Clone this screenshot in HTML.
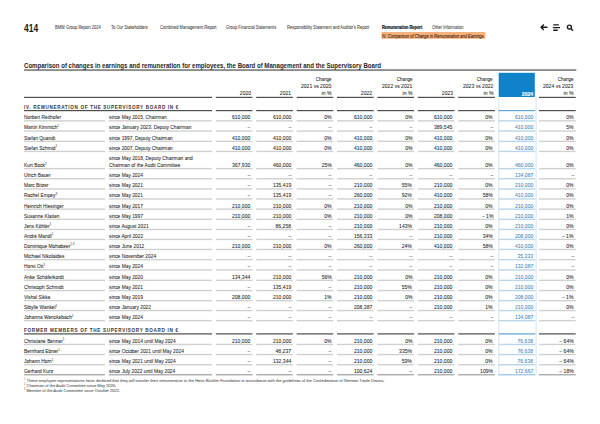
<!DOCTYPE html>
<html><head><meta charset="utf-8"><style>
html,body{margin:0;padding:0;background:#fff;}
body{width:600px;height:424px;position:relative;overflow:hidden;font-family:"Liberation Sans",sans-serif;}
.t{position:absolute;white-space:nowrap;line-height:1;-webkit-text-stroke:0.06px currentColor;}
.l{position:absolute;}
sup{font-size:62%;vertical-align:0;position:relative;top:-0.65em;line-height:0;-webkit-text-stroke:0;}
</style></head><body>
<svg style="position:absolute;left:0;top:0" width="600" height="424" viewBox="0 0 600 424">
<rect x="381.50" y="32.00" width="103.80" height="6.80" fill="#f6b27c"/>
<rect x="24.00" y="69.45" width="552.30" height="1.2" fill="#4d4d4d"/>
<rect x="498.70" y="72.80" width="36.10" height="24.20" fill="#0f82cb"/>
<rect x="24.00" y="96.80" width="188.00" height="1.2" fill="#4d4d4d"/>
<rect x="215.80" y="96.80" width="36.70" height="1.2" fill="#4d4d4d"/>
<rect x="256.20" y="96.80" width="36.70" height="1.2" fill="#4d4d4d"/>
<rect x="296.60" y="96.80" width="36.70" height="1.2" fill="#4d4d4d"/>
<rect x="337.00" y="96.80" width="36.70" height="1.2" fill="#4d4d4d"/>
<rect x="377.40" y="96.80" width="36.70" height="1.2" fill="#4d4d4d"/>
<rect x="417.80" y="96.80" width="36.70" height="1.2" fill="#4d4d4d"/>
<rect x="458.20" y="96.80" width="36.70" height="1.2" fill="#4d4d4d"/>
<rect x="539.00" y="96.80" width="36.70" height="1.2" fill="#4d4d4d"/>
<rect x="498.30" y="98.00" width="1.00" height="277.20" fill="#d3e6f4"/>
<rect x="535.60" y="98.00" width="1.00" height="277.20" fill="#d3e6f4"/>
<rect x="24.00" y="110.00" width="188.00" height="1.2" fill="#4d4d4d"/>
<rect x="215.80" y="110.00" width="36.70" height="1.2" fill="#4d4d4d"/>
<rect x="256.20" y="110.00" width="36.70" height="1.2" fill="#4d4d4d"/>
<rect x="296.60" y="110.00" width="36.70" height="1.2" fill="#4d4d4d"/>
<rect x="337.00" y="110.00" width="36.70" height="1.2" fill="#4d4d4d"/>
<rect x="377.40" y="110.00" width="36.70" height="1.2" fill="#4d4d4d"/>
<rect x="417.80" y="110.00" width="36.70" height="1.2" fill="#4d4d4d"/>
<rect x="458.20" y="110.00" width="36.70" height="1.2" fill="#4d4d4d"/>
<rect x="498.60" y="110.00" width="36.70" height="1.2" fill="#5fa3d3"/>
<rect x="539.00" y="110.00" width="36.70" height="1.2" fill="#4d4d4d"/>
<rect x="24.00" y="120.15" width="81.00" height="1.4" fill="#d0d0d0"/>
<rect x="108.80" y="120.15" width="103.20" height="1.4" fill="#d0d0d0"/>
<rect x="215.80" y="120.15" width="36.70" height="1.4" fill="#d0d0d0"/>
<rect x="256.20" y="120.15" width="36.70" height="1.4" fill="#d0d0d0"/>
<rect x="296.60" y="120.15" width="36.70" height="1.4" fill="#d0d0d0"/>
<rect x="337.00" y="120.15" width="36.70" height="1.4" fill="#d0d0d0"/>
<rect x="377.40" y="120.15" width="36.70" height="1.4" fill="#d0d0d0"/>
<rect x="417.80" y="120.15" width="36.70" height="1.4" fill="#d0d0d0"/>
<rect x="458.20" y="120.15" width="36.70" height="1.4" fill="#d0d0d0"/>
<rect x="498.60" y="120.15" width="36.70" height="1.4" fill="#b9d6ec"/>
<rect x="539.00" y="120.15" width="36.70" height="1.4" fill="#d0d0d0"/>
<rect x="24.00" y="130.35" width="81.00" height="1.4" fill="#d0d0d0"/>
<rect x="108.80" y="130.35" width="103.20" height="1.4" fill="#d0d0d0"/>
<rect x="215.80" y="130.35" width="36.70" height="1.4" fill="#d0d0d0"/>
<rect x="256.20" y="130.35" width="36.70" height="1.4" fill="#d0d0d0"/>
<rect x="296.60" y="130.35" width="36.70" height="1.4" fill="#d0d0d0"/>
<rect x="337.00" y="130.35" width="36.70" height="1.4" fill="#d0d0d0"/>
<rect x="377.40" y="130.35" width="36.70" height="1.4" fill="#d0d0d0"/>
<rect x="417.80" y="130.35" width="36.70" height="1.4" fill="#d0d0d0"/>
<rect x="458.20" y="130.35" width="36.70" height="1.4" fill="#d0d0d0"/>
<rect x="498.60" y="130.35" width="36.70" height="1.4" fill="#b9d6ec"/>
<rect x="539.00" y="130.35" width="36.70" height="1.4" fill="#d0d0d0"/>
<rect x="24.00" y="140.65" width="81.00" height="1.4" fill="#d0d0d0"/>
<rect x="108.80" y="140.65" width="103.20" height="1.4" fill="#d0d0d0"/>
<rect x="215.80" y="140.65" width="36.70" height="1.4" fill="#d0d0d0"/>
<rect x="256.20" y="140.65" width="36.70" height="1.4" fill="#d0d0d0"/>
<rect x="296.60" y="140.65" width="36.70" height="1.4" fill="#d0d0d0"/>
<rect x="337.00" y="140.65" width="36.70" height="1.4" fill="#d0d0d0"/>
<rect x="377.40" y="140.65" width="36.70" height="1.4" fill="#d0d0d0"/>
<rect x="417.80" y="140.65" width="36.70" height="1.4" fill="#d0d0d0"/>
<rect x="458.20" y="140.65" width="36.70" height="1.4" fill="#d0d0d0"/>
<rect x="498.60" y="140.65" width="36.70" height="1.4" fill="#b9d6ec"/>
<rect x="539.00" y="140.65" width="36.70" height="1.4" fill="#d0d0d0"/>
<rect x="24.00" y="150.75" width="81.00" height="1.4" fill="#d0d0d0"/>
<rect x="108.80" y="150.75" width="103.20" height="1.4" fill="#d0d0d0"/>
<rect x="215.80" y="150.75" width="36.70" height="1.4" fill="#d0d0d0"/>
<rect x="256.20" y="150.75" width="36.70" height="1.4" fill="#d0d0d0"/>
<rect x="296.60" y="150.75" width="36.70" height="1.4" fill="#d0d0d0"/>
<rect x="337.00" y="150.75" width="36.70" height="1.4" fill="#d0d0d0"/>
<rect x="377.40" y="150.75" width="36.70" height="1.4" fill="#d0d0d0"/>
<rect x="417.80" y="150.75" width="36.70" height="1.4" fill="#d0d0d0"/>
<rect x="458.20" y="150.75" width="36.70" height="1.4" fill="#d0d0d0"/>
<rect x="498.60" y="150.75" width="36.70" height="1.4" fill="#b9d6ec"/>
<rect x="539.00" y="150.75" width="36.70" height="1.4" fill="#d0d0d0"/>
<rect x="24.00" y="167.95" width="81.00" height="1.4" fill="#d0d0d0"/>
<rect x="108.80" y="167.95" width="103.20" height="1.4" fill="#d0d0d0"/>
<rect x="215.80" y="167.95" width="36.70" height="1.4" fill="#d0d0d0"/>
<rect x="256.20" y="167.95" width="36.70" height="1.4" fill="#d0d0d0"/>
<rect x="296.60" y="167.95" width="36.70" height="1.4" fill="#d0d0d0"/>
<rect x="337.00" y="167.95" width="36.70" height="1.4" fill="#d0d0d0"/>
<rect x="377.40" y="167.95" width="36.70" height="1.4" fill="#d0d0d0"/>
<rect x="417.80" y="167.95" width="36.70" height="1.4" fill="#d0d0d0"/>
<rect x="458.20" y="167.95" width="36.70" height="1.4" fill="#d0d0d0"/>
<rect x="498.60" y="167.95" width="36.70" height="1.4" fill="#b9d6ec"/>
<rect x="539.00" y="167.95" width="36.70" height="1.4" fill="#d0d0d0"/>
<rect x="24.00" y="178.05" width="81.00" height="1.4" fill="#d0d0d0"/>
<rect x="108.80" y="178.05" width="103.20" height="1.4" fill="#d0d0d0"/>
<rect x="215.80" y="178.05" width="36.70" height="1.4" fill="#d0d0d0"/>
<rect x="256.20" y="178.05" width="36.70" height="1.4" fill="#d0d0d0"/>
<rect x="296.60" y="178.05" width="36.70" height="1.4" fill="#d0d0d0"/>
<rect x="337.00" y="178.05" width="36.70" height="1.4" fill="#d0d0d0"/>
<rect x="377.40" y="178.05" width="36.70" height="1.4" fill="#d0d0d0"/>
<rect x="417.80" y="178.05" width="36.70" height="1.4" fill="#d0d0d0"/>
<rect x="458.20" y="178.05" width="36.70" height="1.4" fill="#d0d0d0"/>
<rect x="498.60" y="178.05" width="36.70" height="1.4" fill="#b9d6ec"/>
<rect x="539.00" y="178.05" width="36.70" height="1.4" fill="#d0d0d0"/>
<rect x="24.00" y="188.25" width="81.00" height="1.4" fill="#d0d0d0"/>
<rect x="108.80" y="188.25" width="103.20" height="1.4" fill="#d0d0d0"/>
<rect x="215.80" y="188.25" width="36.70" height="1.4" fill="#d0d0d0"/>
<rect x="256.20" y="188.25" width="36.70" height="1.4" fill="#d0d0d0"/>
<rect x="296.60" y="188.25" width="36.70" height="1.4" fill="#d0d0d0"/>
<rect x="337.00" y="188.25" width="36.70" height="1.4" fill="#d0d0d0"/>
<rect x="377.40" y="188.25" width="36.70" height="1.4" fill="#d0d0d0"/>
<rect x="417.80" y="188.25" width="36.70" height="1.4" fill="#d0d0d0"/>
<rect x="458.20" y="188.25" width="36.70" height="1.4" fill="#d0d0d0"/>
<rect x="498.60" y="188.25" width="36.70" height="1.4" fill="#b9d6ec"/>
<rect x="539.00" y="188.25" width="36.70" height="1.4" fill="#d0d0d0"/>
<rect x="24.00" y="198.25" width="81.00" height="1.4" fill="#d0d0d0"/>
<rect x="108.80" y="198.25" width="103.20" height="1.4" fill="#d0d0d0"/>
<rect x="215.80" y="198.25" width="36.70" height="1.4" fill="#d0d0d0"/>
<rect x="256.20" y="198.25" width="36.70" height="1.4" fill="#d0d0d0"/>
<rect x="296.60" y="198.25" width="36.70" height="1.4" fill="#d0d0d0"/>
<rect x="337.00" y="198.25" width="36.70" height="1.4" fill="#d0d0d0"/>
<rect x="377.40" y="198.25" width="36.70" height="1.4" fill="#d0d0d0"/>
<rect x="417.80" y="198.25" width="36.70" height="1.4" fill="#d0d0d0"/>
<rect x="458.20" y="198.25" width="36.70" height="1.4" fill="#d0d0d0"/>
<rect x="498.60" y="198.25" width="36.70" height="1.4" fill="#b9d6ec"/>
<rect x="539.00" y="198.25" width="36.70" height="1.4" fill="#d0d0d0"/>
<rect x="24.00" y="208.45" width="81.00" height="1.4" fill="#d0d0d0"/>
<rect x="108.80" y="208.45" width="103.20" height="1.4" fill="#d0d0d0"/>
<rect x="215.80" y="208.45" width="36.70" height="1.4" fill="#d0d0d0"/>
<rect x="256.20" y="208.45" width="36.70" height="1.4" fill="#d0d0d0"/>
<rect x="296.60" y="208.45" width="36.70" height="1.4" fill="#d0d0d0"/>
<rect x="337.00" y="208.45" width="36.70" height="1.4" fill="#d0d0d0"/>
<rect x="377.40" y="208.45" width="36.70" height="1.4" fill="#d0d0d0"/>
<rect x="417.80" y="208.45" width="36.70" height="1.4" fill="#d0d0d0"/>
<rect x="458.20" y="208.45" width="36.70" height="1.4" fill="#d0d0d0"/>
<rect x="498.60" y="208.45" width="36.70" height="1.4" fill="#b9d6ec"/>
<rect x="539.00" y="208.45" width="36.70" height="1.4" fill="#d0d0d0"/>
<rect x="24.00" y="218.65" width="81.00" height="1.4" fill="#d0d0d0"/>
<rect x="108.80" y="218.65" width="103.20" height="1.4" fill="#d0d0d0"/>
<rect x="215.80" y="218.65" width="36.70" height="1.4" fill="#d0d0d0"/>
<rect x="256.20" y="218.65" width="36.70" height="1.4" fill="#d0d0d0"/>
<rect x="296.60" y="218.65" width="36.70" height="1.4" fill="#d0d0d0"/>
<rect x="337.00" y="218.65" width="36.70" height="1.4" fill="#d0d0d0"/>
<rect x="377.40" y="218.65" width="36.70" height="1.4" fill="#d0d0d0"/>
<rect x="417.80" y="218.65" width="36.70" height="1.4" fill="#d0d0d0"/>
<rect x="458.20" y="218.65" width="36.70" height="1.4" fill="#d0d0d0"/>
<rect x="498.60" y="218.65" width="36.70" height="1.4" fill="#b9d6ec"/>
<rect x="539.00" y="218.65" width="36.70" height="1.4" fill="#d0d0d0"/>
<rect x="24.00" y="228.75" width="81.00" height="1.4" fill="#d0d0d0"/>
<rect x="108.80" y="228.75" width="103.20" height="1.4" fill="#d0d0d0"/>
<rect x="215.80" y="228.75" width="36.70" height="1.4" fill="#d0d0d0"/>
<rect x="256.20" y="228.75" width="36.70" height="1.4" fill="#d0d0d0"/>
<rect x="296.60" y="228.75" width="36.70" height="1.4" fill="#d0d0d0"/>
<rect x="337.00" y="228.75" width="36.70" height="1.4" fill="#d0d0d0"/>
<rect x="377.40" y="228.75" width="36.70" height="1.4" fill="#d0d0d0"/>
<rect x="417.80" y="228.75" width="36.70" height="1.4" fill="#d0d0d0"/>
<rect x="458.20" y="228.75" width="36.70" height="1.4" fill="#d0d0d0"/>
<rect x="498.60" y="228.75" width="36.70" height="1.4" fill="#b9d6ec"/>
<rect x="539.00" y="228.75" width="36.70" height="1.4" fill="#d0d0d0"/>
<rect x="24.00" y="238.75" width="81.00" height="1.4" fill="#d0d0d0"/>
<rect x="108.80" y="238.75" width="103.20" height="1.4" fill="#d0d0d0"/>
<rect x="215.80" y="238.75" width="36.70" height="1.4" fill="#d0d0d0"/>
<rect x="256.20" y="238.75" width="36.70" height="1.4" fill="#d0d0d0"/>
<rect x="296.60" y="238.75" width="36.70" height="1.4" fill="#d0d0d0"/>
<rect x="337.00" y="238.75" width="36.70" height="1.4" fill="#d0d0d0"/>
<rect x="377.40" y="238.75" width="36.70" height="1.4" fill="#d0d0d0"/>
<rect x="417.80" y="238.75" width="36.70" height="1.4" fill="#d0d0d0"/>
<rect x="458.20" y="238.75" width="36.70" height="1.4" fill="#d0d0d0"/>
<rect x="498.60" y="238.75" width="36.70" height="1.4" fill="#b9d6ec"/>
<rect x="539.00" y="238.75" width="36.70" height="1.4" fill="#d0d0d0"/>
<rect x="24.00" y="248.75" width="81.00" height="1.4" fill="#d0d0d0"/>
<rect x="108.80" y="248.75" width="103.20" height="1.4" fill="#d0d0d0"/>
<rect x="215.80" y="248.75" width="36.70" height="1.4" fill="#d0d0d0"/>
<rect x="256.20" y="248.75" width="36.70" height="1.4" fill="#d0d0d0"/>
<rect x="296.60" y="248.75" width="36.70" height="1.4" fill="#d0d0d0"/>
<rect x="337.00" y="248.75" width="36.70" height="1.4" fill="#d0d0d0"/>
<rect x="377.40" y="248.75" width="36.70" height="1.4" fill="#d0d0d0"/>
<rect x="417.80" y="248.75" width="36.70" height="1.4" fill="#d0d0d0"/>
<rect x="458.20" y="248.75" width="36.70" height="1.4" fill="#d0d0d0"/>
<rect x="498.60" y="248.75" width="36.70" height="1.4" fill="#b9d6ec"/>
<rect x="539.00" y="248.75" width="36.70" height="1.4" fill="#d0d0d0"/>
<rect x="24.00" y="258.95" width="81.00" height="1.4" fill="#d0d0d0"/>
<rect x="108.80" y="258.95" width="103.20" height="1.4" fill="#d0d0d0"/>
<rect x="215.80" y="258.95" width="36.70" height="1.4" fill="#d0d0d0"/>
<rect x="256.20" y="258.95" width="36.70" height="1.4" fill="#d0d0d0"/>
<rect x="296.60" y="258.95" width="36.70" height="1.4" fill="#d0d0d0"/>
<rect x="337.00" y="258.95" width="36.70" height="1.4" fill="#d0d0d0"/>
<rect x="377.40" y="258.95" width="36.70" height="1.4" fill="#d0d0d0"/>
<rect x="417.80" y="258.95" width="36.70" height="1.4" fill="#d0d0d0"/>
<rect x="458.20" y="258.95" width="36.70" height="1.4" fill="#d0d0d0"/>
<rect x="498.60" y="258.95" width="36.70" height="1.4" fill="#b9d6ec"/>
<rect x="539.00" y="258.95" width="36.70" height="1.4" fill="#d0d0d0"/>
<rect x="24.00" y="269.25" width="81.00" height="1.4" fill="#d0d0d0"/>
<rect x="108.80" y="269.25" width="103.20" height="1.4" fill="#d0d0d0"/>
<rect x="215.80" y="269.25" width="36.70" height="1.4" fill="#d0d0d0"/>
<rect x="256.20" y="269.25" width="36.70" height="1.4" fill="#d0d0d0"/>
<rect x="296.60" y="269.25" width="36.70" height="1.4" fill="#d0d0d0"/>
<rect x="337.00" y="269.25" width="36.70" height="1.4" fill="#d0d0d0"/>
<rect x="377.40" y="269.25" width="36.70" height="1.4" fill="#d0d0d0"/>
<rect x="417.80" y="269.25" width="36.70" height="1.4" fill="#d0d0d0"/>
<rect x="458.20" y="269.25" width="36.70" height="1.4" fill="#d0d0d0"/>
<rect x="498.60" y="269.25" width="36.70" height="1.4" fill="#b9d6ec"/>
<rect x="539.00" y="269.25" width="36.70" height="1.4" fill="#d0d0d0"/>
<rect x="24.00" y="279.65" width="81.00" height="1.4" fill="#d0d0d0"/>
<rect x="108.80" y="279.65" width="103.20" height="1.4" fill="#d0d0d0"/>
<rect x="215.80" y="279.65" width="36.70" height="1.4" fill="#d0d0d0"/>
<rect x="256.20" y="279.65" width="36.70" height="1.4" fill="#d0d0d0"/>
<rect x="296.60" y="279.65" width="36.70" height="1.4" fill="#d0d0d0"/>
<rect x="337.00" y="279.65" width="36.70" height="1.4" fill="#d0d0d0"/>
<rect x="377.40" y="279.65" width="36.70" height="1.4" fill="#d0d0d0"/>
<rect x="417.80" y="279.65" width="36.70" height="1.4" fill="#d0d0d0"/>
<rect x="458.20" y="279.65" width="36.70" height="1.4" fill="#d0d0d0"/>
<rect x="498.60" y="279.65" width="36.70" height="1.4" fill="#b9d6ec"/>
<rect x="539.00" y="279.65" width="36.70" height="1.4" fill="#d0d0d0"/>
<rect x="24.00" y="289.85" width="81.00" height="1.4" fill="#d0d0d0"/>
<rect x="108.80" y="289.85" width="103.20" height="1.4" fill="#d0d0d0"/>
<rect x="215.80" y="289.85" width="36.70" height="1.4" fill="#d0d0d0"/>
<rect x="256.20" y="289.85" width="36.70" height="1.4" fill="#d0d0d0"/>
<rect x="296.60" y="289.85" width="36.70" height="1.4" fill="#d0d0d0"/>
<rect x="337.00" y="289.85" width="36.70" height="1.4" fill="#d0d0d0"/>
<rect x="377.40" y="289.85" width="36.70" height="1.4" fill="#d0d0d0"/>
<rect x="417.80" y="289.85" width="36.70" height="1.4" fill="#d0d0d0"/>
<rect x="458.20" y="289.85" width="36.70" height="1.4" fill="#d0d0d0"/>
<rect x="498.60" y="289.85" width="36.70" height="1.4" fill="#b9d6ec"/>
<rect x="539.00" y="289.85" width="36.70" height="1.4" fill="#d0d0d0"/>
<rect x="24.00" y="299.95" width="81.00" height="1.4" fill="#d0d0d0"/>
<rect x="108.80" y="299.95" width="103.20" height="1.4" fill="#d0d0d0"/>
<rect x="215.80" y="299.95" width="36.70" height="1.4" fill="#d0d0d0"/>
<rect x="256.20" y="299.95" width="36.70" height="1.4" fill="#d0d0d0"/>
<rect x="296.60" y="299.95" width="36.70" height="1.4" fill="#d0d0d0"/>
<rect x="337.00" y="299.95" width="36.70" height="1.4" fill="#d0d0d0"/>
<rect x="377.40" y="299.95" width="36.70" height="1.4" fill="#d0d0d0"/>
<rect x="417.80" y="299.95" width="36.70" height="1.4" fill="#d0d0d0"/>
<rect x="458.20" y="299.95" width="36.70" height="1.4" fill="#d0d0d0"/>
<rect x="498.60" y="299.95" width="36.70" height="1.4" fill="#b9d6ec"/>
<rect x="539.00" y="299.95" width="36.70" height="1.4" fill="#d0d0d0"/>
<rect x="24.00" y="309.85" width="81.00" height="1.4" fill="#d0d0d0"/>
<rect x="108.80" y="309.85" width="103.20" height="1.4" fill="#d0d0d0"/>
<rect x="215.80" y="309.85" width="36.70" height="1.4" fill="#d0d0d0"/>
<rect x="256.20" y="309.85" width="36.70" height="1.4" fill="#d0d0d0"/>
<rect x="296.60" y="309.85" width="36.70" height="1.4" fill="#d0d0d0"/>
<rect x="337.00" y="309.85" width="36.70" height="1.4" fill="#d0d0d0"/>
<rect x="377.40" y="309.85" width="36.70" height="1.4" fill="#d0d0d0"/>
<rect x="417.80" y="309.85" width="36.70" height="1.4" fill="#d0d0d0"/>
<rect x="458.20" y="309.85" width="36.70" height="1.4" fill="#d0d0d0"/>
<rect x="498.60" y="309.85" width="36.70" height="1.4" fill="#b9d6ec"/>
<rect x="539.00" y="309.85" width="36.70" height="1.4" fill="#d0d0d0"/>
<rect x="24.00" y="319.95" width="81.00" height="1.4" fill="#d0d0d0"/>
<rect x="108.80" y="319.95" width="103.20" height="1.4" fill="#d0d0d0"/>
<rect x="215.80" y="319.95" width="36.70" height="1.4" fill="#d0d0d0"/>
<rect x="256.20" y="319.95" width="36.70" height="1.4" fill="#d0d0d0"/>
<rect x="296.60" y="319.95" width="36.70" height="1.4" fill="#d0d0d0"/>
<rect x="337.00" y="319.95" width="36.70" height="1.4" fill="#d0d0d0"/>
<rect x="377.40" y="319.95" width="36.70" height="1.4" fill="#d0d0d0"/>
<rect x="417.80" y="319.95" width="36.70" height="1.4" fill="#d0d0d0"/>
<rect x="458.20" y="319.95" width="36.70" height="1.4" fill="#d0d0d0"/>
<rect x="498.60" y="319.95" width="36.70" height="1.4" fill="#b9d6ec"/>
<rect x="539.00" y="319.95" width="36.70" height="1.4" fill="#d0d0d0"/>
<rect x="24.00" y="333.30" width="188.00" height="1.2" fill="#4d4d4d"/>
<rect x="215.80" y="333.30" width="36.70" height="1.2" fill="#4d4d4d"/>
<rect x="256.20" y="333.30" width="36.70" height="1.2" fill="#4d4d4d"/>
<rect x="296.60" y="333.30" width="36.70" height="1.2" fill="#4d4d4d"/>
<rect x="337.00" y="333.30" width="36.70" height="1.2" fill="#4d4d4d"/>
<rect x="377.40" y="333.30" width="36.70" height="1.2" fill="#4d4d4d"/>
<rect x="417.80" y="333.30" width="36.70" height="1.2" fill="#4d4d4d"/>
<rect x="458.20" y="333.30" width="36.70" height="1.2" fill="#4d4d4d"/>
<rect x="498.60" y="333.30" width="36.70" height="1.2" fill="#5fa3d3"/>
<rect x="539.00" y="333.30" width="36.70" height="1.2" fill="#4d4d4d"/>
<rect x="24.00" y="343.75" width="81.00" height="1.4" fill="#d0d0d0"/>
<rect x="108.80" y="343.75" width="103.20" height="1.4" fill="#d0d0d0"/>
<rect x="215.80" y="343.75" width="36.70" height="1.4" fill="#d0d0d0"/>
<rect x="256.20" y="343.75" width="36.70" height="1.4" fill="#d0d0d0"/>
<rect x="296.60" y="343.75" width="36.70" height="1.4" fill="#d0d0d0"/>
<rect x="337.00" y="343.75" width="36.70" height="1.4" fill="#d0d0d0"/>
<rect x="377.40" y="343.75" width="36.70" height="1.4" fill="#d0d0d0"/>
<rect x="417.80" y="343.75" width="36.70" height="1.4" fill="#d0d0d0"/>
<rect x="458.20" y="343.75" width="36.70" height="1.4" fill="#d0d0d0"/>
<rect x="498.60" y="343.75" width="36.70" height="1.4" fill="#b9d6ec"/>
<rect x="539.00" y="343.75" width="36.70" height="1.4" fill="#d0d0d0"/>
<rect x="24.00" y="353.85" width="81.00" height="1.4" fill="#d0d0d0"/>
<rect x="108.80" y="353.85" width="103.20" height="1.4" fill="#d0d0d0"/>
<rect x="215.80" y="353.85" width="36.70" height="1.4" fill="#d0d0d0"/>
<rect x="256.20" y="353.85" width="36.70" height="1.4" fill="#d0d0d0"/>
<rect x="296.60" y="353.85" width="36.70" height="1.4" fill="#d0d0d0"/>
<rect x="337.00" y="353.85" width="36.70" height="1.4" fill="#d0d0d0"/>
<rect x="377.40" y="353.85" width="36.70" height="1.4" fill="#d0d0d0"/>
<rect x="417.80" y="353.85" width="36.70" height="1.4" fill="#d0d0d0"/>
<rect x="458.20" y="353.85" width="36.70" height="1.4" fill="#d0d0d0"/>
<rect x="498.60" y="353.85" width="36.70" height="1.4" fill="#b9d6ec"/>
<rect x="539.00" y="353.85" width="36.70" height="1.4" fill="#d0d0d0"/>
<rect x="24.00" y="364.05" width="81.00" height="1.4" fill="#d0d0d0"/>
<rect x="108.80" y="364.05" width="103.20" height="1.4" fill="#d0d0d0"/>
<rect x="215.80" y="364.05" width="36.70" height="1.4" fill="#d0d0d0"/>
<rect x="256.20" y="364.05" width="36.70" height="1.4" fill="#d0d0d0"/>
<rect x="296.60" y="364.05" width="36.70" height="1.4" fill="#d0d0d0"/>
<rect x="337.00" y="364.05" width="36.70" height="1.4" fill="#d0d0d0"/>
<rect x="377.40" y="364.05" width="36.70" height="1.4" fill="#d0d0d0"/>
<rect x="417.80" y="364.05" width="36.70" height="1.4" fill="#d0d0d0"/>
<rect x="458.20" y="364.05" width="36.70" height="1.4" fill="#d0d0d0"/>
<rect x="498.60" y="364.05" width="36.70" height="1.4" fill="#b9d6ec"/>
<rect x="539.00" y="364.05" width="36.70" height="1.4" fill="#d0d0d0"/>
<rect x="24.00" y="373.95" width="81.00" height="1.5" fill="#b0b0b0"/>
<rect x="108.80" y="373.95" width="103.20" height="1.5" fill="#b0b0b0"/>
<rect x="215.80" y="373.95" width="36.70" height="1.5" fill="#b0b0b0"/>
<rect x="256.20" y="373.95" width="36.70" height="1.5" fill="#b0b0b0"/>
<rect x="296.60" y="373.95" width="36.70" height="1.5" fill="#b0b0b0"/>
<rect x="337.00" y="373.95" width="36.70" height="1.5" fill="#b0b0b0"/>
<rect x="377.40" y="373.95" width="36.70" height="1.5" fill="#b0b0b0"/>
<rect x="417.80" y="373.95" width="36.70" height="1.5" fill="#b0b0b0"/>
<rect x="458.20" y="373.95" width="36.70" height="1.5" fill="#b0b0b0"/>
<rect x="498.60" y="373.95" width="36.70" height="1.5" fill="#a8cce8"/>
<rect x="539.00" y="373.95" width="36.70" height="1.5" fill="#b0b0b0"/>
</svg>
<div class="t " style="left:24.00px;top:23.90px;font-size:10.0px;transform-origin:left top;transform:scaleX(0.845);color:#1a1a1a;font-weight:bold;-webkit-text-stroke:0px currentColor;">414</div>
<div class="t " style="left:55.00px;top:24.68px;font-size:5.2px;transform-origin:left top;transform:scaleX(0.78);color:#404040;">BMW Group Report 2024</div>
<div class="t " style="left:111.00px;top:24.68px;font-size:5.2px;transform-origin:left top;transform:scaleX(0.78);color:#404040;">To Our Stakeholders</div>
<div class="t " style="left:159.50px;top:24.68px;font-size:5.2px;transform-origin:left top;transform:scaleX(0.78);color:#404040;">Combined Management Report</div>
<div class="t " style="left:226.00px;top:24.68px;font-size:5.2px;transform-origin:left top;transform:scaleX(0.78);color:#404040;">Group Financial Statements</div>
<div class="t " style="left:287.00px;top:24.68px;font-size:5.2px;transform-origin:left top;transform:scaleX(0.78);color:#404040;">Responsibility Statement and Auditor's Report</div>
<div class="t " style="left:382.30px;top:24.68px;font-size:5.2px;transform-origin:left top;transform:scaleX(0.758);color:#111;font-weight:bold;-webkit-text-stroke:0.2px currentColor;">Remuneration Report</div>
<div class="t " style="left:432.00px;top:24.68px;font-size:5.2px;transform-origin:left top;transform:scaleX(0.78);color:#404040;">Other Information</div>
<div class="t " style="left:382.30px;top:33.98px;font-size:5.2px;transform-origin:left top;transform:scaleX(0.77);color:#4a2810;font-style:italic;-webkit-text-stroke:0.12px currentColor;">IV. Comparison of Change in Remuneration and Earnings</div>
<svg style="position:absolute;left:0;top:0" width="600" height="60" viewBox="0 0 600 60">
<g stroke="#1a1a1a" stroke-width="1.4" fill="none" stroke-linecap="butt">
<path d="M541.0 27.2 H547.5 M543.8 24.5 L541.1 27.2 L543.8 29.9"/>
<path d="M553.3 24.9 H558.8 M552.9 27.6 H560 M553.3 30.2 H557.7"/>
<circle cx="569.4" cy="27.1" r="2.0"/>
<path d="M570.9 28.6 L573 30.7"/>
</g></svg>
<div class="t " style="left:24.00px;top:63.39px;font-size:6.4px;transform-origin:left top;transform:scaleX(0.952);color:#262626;font-weight:bold;-webkit-text-stroke:0px currentColor;">Comparison of changes in earnings and remuneration for employees, the Board of Management and the Supervisory Board</div>
<div class="t " style="right:349.40px;top:91.00px;font-size:5.9px;transform-origin:right top;transform:scaleX(0.86);color:#222;">2020</div>
<div class="t " style="right:309.00px;top:91.00px;font-size:5.9px;transform-origin:right top;transform:scaleX(0.86);color:#222;">2021</div>
<div class="t " style="right:268.60px;top:76.90px;font-size:5.9px;transform-origin:right top;transform:scaleX(0.77);color:#222;">Change</div>
<div class="t " style="right:268.60px;top:84.10px;font-size:5.9px;transform-origin:right top;transform:scaleX(0.86);color:#222;">2021 vs 2020</div>
<div class="t " style="right:268.60px;top:91.00px;font-size:5.9px;transform-origin:right top;transform:scaleX(0.87);color:#222;">in %</div>
<div class="t " style="right:228.20px;top:91.00px;font-size:5.9px;transform-origin:right top;transform:scaleX(0.86);color:#222;">2022</div>
<div class="t " style="right:187.80px;top:76.90px;font-size:5.9px;transform-origin:right top;transform:scaleX(0.77);color:#222;">Change</div>
<div class="t " style="right:187.80px;top:84.10px;font-size:5.9px;transform-origin:right top;transform:scaleX(0.86);color:#222;">2022 vs 2021</div>
<div class="t " style="right:187.80px;top:91.00px;font-size:5.9px;transform-origin:right top;transform:scaleX(0.87);color:#222;">in %</div>
<div class="t " style="right:147.40px;top:91.00px;font-size:5.9px;transform-origin:right top;transform:scaleX(0.86);color:#222;">2023</div>
<div class="t " style="right:107.00px;top:76.90px;font-size:5.9px;transform-origin:right top;transform:scaleX(0.77);color:#222;">Change</div>
<div class="t " style="right:107.00px;top:84.10px;font-size:5.9px;transform-origin:right top;transform:scaleX(0.86);color:#222;">2023 vs 2022</div>
<div class="t " style="right:107.00px;top:91.00px;font-size:5.9px;transform-origin:right top;transform:scaleX(0.87);color:#222;">in %</div>
<div class="t " style="right:66.60px;top:91.60px;font-size:5.9px;transform-origin:right top;transform:scaleX(0.86);color:#ffffff;font-weight:bold;-webkit-text-stroke:0.12px currentColor;">2024</div>
<div class="t " style="right:26.20px;top:76.90px;font-size:5.9px;transform-origin:right top;transform:scaleX(0.77);color:#222;">Change</div>
<div class="t " style="right:26.20px;top:84.10px;font-size:5.9px;transform-origin:right top;transform:scaleX(0.86);color:#222;">2024 vs 2023</div>
<div class="t " style="right:26.20px;top:91.00px;font-size:5.9px;transform-origin:right top;transform:scaleX(0.87);color:#222;">in %</div>
<div class="t " style="left:24.00px;top:105.78px;font-size:4.6px;transform-origin:left top;color:#333;font-weight:bold;-webkit-text-stroke:0px currentColor;letter-spacing:0.68px;">IV. REMUNERATION OF THE SUPERVISORY BOARD IN €</div>
<div class="t " style="left:24.00px;top:115.25px;font-size:5.9px;transform-origin:left top;transform:scaleX(0.822);color:#222;">Norbert Reithofer</div>
<div class="t " style="left:108.80px;top:115.25px;font-size:5.9px;transform-origin:left top;transform:scaleX(0.822);color:#222;">since May 2015, Chairman</div>
<div class="t " style="right:349.40px;top:115.25px;font-size:5.9px;transform-origin:right top;transform:scaleX(0.86);color:#222;">610,000</div>
<div class="t " style="right:309.00px;top:115.25px;font-size:5.9px;transform-origin:right top;transform:scaleX(0.86);color:#222;">610,000</div>
<div class="t " style="right:268.60px;top:115.25px;font-size:5.9px;transform-origin:right top;transform:scaleX(0.86);color:#222;">0%</div>
<div class="t " style="right:228.20px;top:115.25px;font-size:5.9px;transform-origin:right top;transform:scaleX(0.86);color:#222;">610,000</div>
<div class="t " style="right:187.80px;top:115.25px;font-size:5.9px;transform-origin:right top;transform:scaleX(0.86);color:#222;">0%</div>
<div class="t " style="right:147.40px;top:115.25px;font-size:5.9px;transform-origin:right top;transform:scaleX(0.86);color:#222;">610,000</div>
<div class="t " style="right:107.00px;top:115.25px;font-size:5.9px;transform-origin:right top;transform:scaleX(0.86);color:#222;">0%</div>
<div class="t " style="right:66.60px;top:115.25px;font-size:5.9px;transform-origin:right top;transform:scaleX(0.86);color:#3886c0;">610,000</div>
<div class="t " style="right:26.20px;top:115.25px;font-size:5.9px;transform-origin:right top;transform:scaleX(0.86);color:#222;">0%</div>
<div class="t " style="left:24.00px;top:125.45px;font-size:5.9px;transform-origin:left top;transform:scaleX(0.822);color:#222;">Martin Kimmich<sup>1</sup></div>
<div class="t " style="left:108.80px;top:125.45px;font-size:5.9px;transform-origin:left top;transform:scaleX(0.822);color:#222;">since January 2023, Deputy Chairman</div>
<div class="t " style="right:349.40px;top:125.45px;font-size:5.9px;transform-origin:right top;transform:scaleX(0.86);color:#222;">–</div>
<div class="t " style="right:309.00px;top:125.45px;font-size:5.9px;transform-origin:right top;transform:scaleX(0.86);color:#222;">–</div>
<div class="t " style="right:268.60px;top:125.45px;font-size:5.9px;transform-origin:right top;transform:scaleX(0.86);color:#222;">–</div>
<div class="t " style="right:228.20px;top:125.45px;font-size:5.9px;transform-origin:right top;transform:scaleX(0.86);color:#222;">–</div>
<div class="t " style="right:187.80px;top:125.45px;font-size:5.9px;transform-origin:right top;transform:scaleX(0.86);color:#222;">–</div>
<div class="t " style="right:147.40px;top:125.45px;font-size:5.9px;transform-origin:right top;transform:scaleX(0.86);color:#222;">389,545</div>
<div class="t " style="right:107.00px;top:125.45px;font-size:5.9px;transform-origin:right top;transform:scaleX(0.86);color:#222;">–</div>
<div class="t " style="right:66.60px;top:125.45px;font-size:5.9px;transform-origin:right top;transform:scaleX(0.86);color:#3886c0;">410,000</div>
<div class="t " style="right:26.20px;top:125.45px;font-size:5.9px;transform-origin:right top;transform:scaleX(0.86);color:#222;">5%</div>
<div class="t " style="left:24.00px;top:135.75px;font-size:5.9px;transform-origin:left top;transform:scaleX(0.822);color:#222;">Stefan Quandt</div>
<div class="t " style="left:108.80px;top:135.75px;font-size:5.9px;transform-origin:left top;transform:scaleX(0.822);color:#222;">since 1997, Deputy Chairman</div>
<div class="t " style="right:349.40px;top:135.75px;font-size:5.9px;transform-origin:right top;transform:scaleX(0.86);color:#222;">410,000</div>
<div class="t " style="right:309.00px;top:135.75px;font-size:5.9px;transform-origin:right top;transform:scaleX(0.86);color:#222;">410,000</div>
<div class="t " style="right:268.60px;top:135.75px;font-size:5.9px;transform-origin:right top;transform:scaleX(0.86);color:#222;">0%</div>
<div class="t " style="right:228.20px;top:135.75px;font-size:5.9px;transform-origin:right top;transform:scaleX(0.86);color:#222;">410,000</div>
<div class="t " style="right:187.80px;top:135.75px;font-size:5.9px;transform-origin:right top;transform:scaleX(0.86);color:#222;">0%</div>
<div class="t " style="right:147.40px;top:135.75px;font-size:5.9px;transform-origin:right top;transform:scaleX(0.86);color:#222;">410,000</div>
<div class="t " style="right:107.00px;top:135.75px;font-size:5.9px;transform-origin:right top;transform:scaleX(0.86);color:#222;">0%</div>
<div class="t " style="right:66.60px;top:135.75px;font-size:5.9px;transform-origin:right top;transform:scaleX(0.86);color:#3886c0;">410,000</div>
<div class="t " style="right:26.20px;top:135.75px;font-size:5.9px;transform-origin:right top;transform:scaleX(0.86);color:#222;">0%</div>
<div class="t " style="left:24.00px;top:145.85px;font-size:5.9px;transform-origin:left top;transform:scaleX(0.822);color:#222;">Stefan Schmid<sup>1</sup></div>
<div class="t " style="left:108.80px;top:145.85px;font-size:5.9px;transform-origin:left top;transform:scaleX(0.822);color:#222;">since 2007, Deputy Chairman</div>
<div class="t " style="right:349.40px;top:145.85px;font-size:5.9px;transform-origin:right top;transform:scaleX(0.86);color:#222;">410,000</div>
<div class="t " style="right:309.00px;top:145.85px;font-size:5.9px;transform-origin:right top;transform:scaleX(0.86);color:#222;">410,000</div>
<div class="t " style="right:268.60px;top:145.85px;font-size:5.9px;transform-origin:right top;transform:scaleX(0.86);color:#222;">0%</div>
<div class="t " style="right:228.20px;top:145.85px;font-size:5.9px;transform-origin:right top;transform:scaleX(0.86);color:#222;">410,000</div>
<div class="t " style="right:187.80px;top:145.85px;font-size:5.9px;transform-origin:right top;transform:scaleX(0.86);color:#222;">0%</div>
<div class="t " style="right:147.40px;top:145.85px;font-size:5.9px;transform-origin:right top;transform:scaleX(0.86);color:#222;">410,000</div>
<div class="t " style="right:107.00px;top:145.85px;font-size:5.9px;transform-origin:right top;transform:scaleX(0.86);color:#222;">0%</div>
<div class="t " style="right:66.60px;top:145.85px;font-size:5.9px;transform-origin:right top;transform:scaleX(0.86);color:#3886c0;">410,000</div>
<div class="t " style="right:26.20px;top:145.85px;font-size:5.9px;transform-origin:right top;transform:scaleX(0.86);color:#222;">0%</div>
<div class="t " style="left:24.00px;top:163.05px;font-size:5.9px;transform-origin:left top;transform:scaleX(0.822);color:#222;">Kurt Bock<sup>2</sup></div>
<div class="t " style="left:108.80px;top:156.05px;font-size:5.9px;transform-origin:left top;transform:scaleX(0.822);color:#222;">since May 2018, Deputy Chairman and</div>
<div class="t " style="left:108.80px;top:163.05px;font-size:5.9px;transform-origin:left top;transform:scaleX(0.822);color:#222;">Chairman of the Audit Committee</div>
<div class="t " style="right:349.40px;top:163.05px;font-size:5.9px;transform-origin:right top;transform:scaleX(0.86);color:#222;">367,930</div>
<div class="t " style="right:309.00px;top:163.05px;font-size:5.9px;transform-origin:right top;transform:scaleX(0.86);color:#222;">460,000</div>
<div class="t " style="right:268.60px;top:163.05px;font-size:5.9px;transform-origin:right top;transform:scaleX(0.86);color:#222;">25%</div>
<div class="t " style="right:228.20px;top:163.05px;font-size:5.9px;transform-origin:right top;transform:scaleX(0.86);color:#222;">460,000</div>
<div class="t " style="right:187.80px;top:163.05px;font-size:5.9px;transform-origin:right top;transform:scaleX(0.86);color:#222;">0%</div>
<div class="t " style="right:147.40px;top:163.05px;font-size:5.9px;transform-origin:right top;transform:scaleX(0.86);color:#222;">460,000</div>
<div class="t " style="right:107.00px;top:163.05px;font-size:5.9px;transform-origin:right top;transform:scaleX(0.86);color:#222;">0%</div>
<div class="t " style="right:66.60px;top:163.05px;font-size:5.9px;transform-origin:right top;transform:scaleX(0.86);color:#3886c0;">460,000</div>
<div class="t " style="right:26.20px;top:163.05px;font-size:5.9px;transform-origin:right top;transform:scaleX(0.86);color:#222;">0%</div>
<div class="t " style="left:24.00px;top:173.15px;font-size:5.9px;transform-origin:left top;transform:scaleX(0.822);color:#222;">Ulrich Bauer</div>
<div class="t " style="left:108.80px;top:173.15px;font-size:5.9px;transform-origin:left top;transform:scaleX(0.822);color:#222;">since May 2024</div>
<div class="t " style="right:349.40px;top:173.15px;font-size:5.9px;transform-origin:right top;transform:scaleX(0.86);color:#222;">–</div>
<div class="t " style="right:309.00px;top:173.15px;font-size:5.9px;transform-origin:right top;transform:scaleX(0.86);color:#222;">–</div>
<div class="t " style="right:268.60px;top:173.15px;font-size:5.9px;transform-origin:right top;transform:scaleX(0.86);color:#222;">–</div>
<div class="t " style="right:228.20px;top:173.15px;font-size:5.9px;transform-origin:right top;transform:scaleX(0.86);color:#222;">–</div>
<div class="t " style="right:187.80px;top:173.15px;font-size:5.9px;transform-origin:right top;transform:scaleX(0.86);color:#222;">–</div>
<div class="t " style="right:147.40px;top:173.15px;font-size:5.9px;transform-origin:right top;transform:scaleX(0.86);color:#222;">–</div>
<div class="t " style="right:107.00px;top:173.15px;font-size:5.9px;transform-origin:right top;transform:scaleX(0.86);color:#222;">–</div>
<div class="t " style="right:66.60px;top:173.15px;font-size:5.9px;transform-origin:right top;transform:scaleX(0.86);color:#3886c0;">134,087</div>
<div class="t " style="right:26.20px;top:173.15px;font-size:5.9px;transform-origin:right top;transform:scaleX(0.86);color:#222;">–</div>
<div class="t " style="left:24.00px;top:183.35px;font-size:5.9px;transform-origin:left top;transform:scaleX(0.822);color:#222;">Marc Bitzer</div>
<div class="t " style="left:108.80px;top:183.35px;font-size:5.9px;transform-origin:left top;transform:scaleX(0.822);color:#222;">since May 2021</div>
<div class="t " style="right:349.40px;top:183.35px;font-size:5.9px;transform-origin:right top;transform:scaleX(0.86);color:#222;">–</div>
<div class="t " style="right:309.00px;top:183.35px;font-size:5.9px;transform-origin:right top;transform:scaleX(0.86);color:#222;">135,419</div>
<div class="t " style="right:268.60px;top:183.35px;font-size:5.9px;transform-origin:right top;transform:scaleX(0.86);color:#222;">–</div>
<div class="t " style="right:228.20px;top:183.35px;font-size:5.9px;transform-origin:right top;transform:scaleX(0.86);color:#222;">210,000</div>
<div class="t " style="right:187.80px;top:183.35px;font-size:5.9px;transform-origin:right top;transform:scaleX(0.86);color:#222;">55%</div>
<div class="t " style="right:147.40px;top:183.35px;font-size:5.9px;transform-origin:right top;transform:scaleX(0.86);color:#222;">210,000</div>
<div class="t " style="right:107.00px;top:183.35px;font-size:5.9px;transform-origin:right top;transform:scaleX(0.86);color:#222;">0%</div>
<div class="t " style="right:66.60px;top:183.35px;font-size:5.9px;transform-origin:right top;transform:scaleX(0.86);color:#3886c0;">210,000</div>
<div class="t " style="right:26.20px;top:183.35px;font-size:5.9px;transform-origin:right top;transform:scaleX(0.86);color:#222;">0%</div>
<div class="t " style="left:24.00px;top:193.35px;font-size:5.9px;transform-origin:left top;transform:scaleX(0.822);color:#222;">Rachel Empey<sup>3</sup></div>
<div class="t " style="left:108.80px;top:193.35px;font-size:5.9px;transform-origin:left top;transform:scaleX(0.822);color:#222;">since May 2021</div>
<div class="t " style="right:349.40px;top:193.35px;font-size:5.9px;transform-origin:right top;transform:scaleX(0.86);color:#222;">–</div>
<div class="t " style="right:309.00px;top:193.35px;font-size:5.9px;transform-origin:right top;transform:scaleX(0.86);color:#222;">135,419</div>
<div class="t " style="right:268.60px;top:193.35px;font-size:5.9px;transform-origin:right top;transform:scaleX(0.86);color:#222;">–</div>
<div class="t " style="right:228.20px;top:193.35px;font-size:5.9px;transform-origin:right top;transform:scaleX(0.86);color:#222;">260,000</div>
<div class="t " style="right:187.80px;top:193.35px;font-size:5.9px;transform-origin:right top;transform:scaleX(0.86);color:#222;">92%</div>
<div class="t " style="right:147.40px;top:193.35px;font-size:5.9px;transform-origin:right top;transform:scaleX(0.86);color:#222;">410,000</div>
<div class="t " style="right:107.00px;top:193.35px;font-size:5.9px;transform-origin:right top;transform:scaleX(0.86);color:#222;">58%</div>
<div class="t " style="right:66.60px;top:193.35px;font-size:5.9px;transform-origin:right top;transform:scaleX(0.86);color:#3886c0;">410,000</div>
<div class="t " style="right:26.20px;top:193.35px;font-size:5.9px;transform-origin:right top;transform:scaleX(0.86);color:#222;">0%</div>
<div class="t " style="left:24.00px;top:203.55px;font-size:5.9px;transform-origin:left top;transform:scaleX(0.822);color:#222;">Heinrich Hiesinger</div>
<div class="t " style="left:108.80px;top:203.55px;font-size:5.9px;transform-origin:left top;transform:scaleX(0.822);color:#222;">since May 2017</div>
<div class="t " style="right:349.40px;top:203.55px;font-size:5.9px;transform-origin:right top;transform:scaleX(0.86);color:#222;">210,000</div>
<div class="t " style="right:309.00px;top:203.55px;font-size:5.9px;transform-origin:right top;transform:scaleX(0.86);color:#222;">210,000</div>
<div class="t " style="right:268.60px;top:203.55px;font-size:5.9px;transform-origin:right top;transform:scaleX(0.86);color:#222;">0%</div>
<div class="t " style="right:228.20px;top:203.55px;font-size:5.9px;transform-origin:right top;transform:scaleX(0.86);color:#222;">210,000</div>
<div class="t " style="right:187.80px;top:203.55px;font-size:5.9px;transform-origin:right top;transform:scaleX(0.86);color:#222;">0%</div>
<div class="t " style="right:147.40px;top:203.55px;font-size:5.9px;transform-origin:right top;transform:scaleX(0.86);color:#222;">210,000</div>
<div class="t " style="right:107.00px;top:203.55px;font-size:5.9px;transform-origin:right top;transform:scaleX(0.86);color:#222;">0%</div>
<div class="t " style="right:66.60px;top:203.55px;font-size:5.9px;transform-origin:right top;transform:scaleX(0.86);color:#3886c0;">210,000</div>
<div class="t " style="right:26.20px;top:203.55px;font-size:5.9px;transform-origin:right top;transform:scaleX(0.86);color:#222;">0%</div>
<div class="t " style="left:24.00px;top:213.75px;font-size:5.9px;transform-origin:left top;transform:scaleX(0.822);color:#222;">Susanne Klatten</div>
<div class="t " style="left:108.80px;top:213.75px;font-size:5.9px;transform-origin:left top;transform:scaleX(0.822);color:#222;">since May 1997</div>
<div class="t " style="right:349.40px;top:213.75px;font-size:5.9px;transform-origin:right top;transform:scaleX(0.86);color:#222;">210,000</div>
<div class="t " style="right:309.00px;top:213.75px;font-size:5.9px;transform-origin:right top;transform:scaleX(0.86);color:#222;">210,000</div>
<div class="t " style="right:268.60px;top:213.75px;font-size:5.9px;transform-origin:right top;transform:scaleX(0.86);color:#222;">0%</div>
<div class="t " style="right:228.20px;top:213.75px;font-size:5.9px;transform-origin:right top;transform:scaleX(0.86);color:#222;">210,000</div>
<div class="t " style="right:187.80px;top:213.75px;font-size:5.9px;transform-origin:right top;transform:scaleX(0.86);color:#222;">0%</div>
<div class="t " style="right:147.40px;top:213.75px;font-size:5.9px;transform-origin:right top;transform:scaleX(0.86);color:#222;">208,000</div>
<div class="t " style="right:107.00px;top:213.75px;font-size:5.9px;transform-origin:right top;transform:scaleX(0.86);color:#222;">– 1%</div>
<div class="t " style="right:66.60px;top:213.75px;font-size:5.9px;transform-origin:right top;transform:scaleX(0.86);color:#3886c0;">210,000</div>
<div class="t " style="right:26.20px;top:213.75px;font-size:5.9px;transform-origin:right top;transform:scaleX(0.86);color:#222;">1%</div>
<div class="t " style="left:24.00px;top:223.85px;font-size:5.9px;transform-origin:left top;transform:scaleX(0.822);color:#222;">Jens Köhler<sup>1</sup></div>
<div class="t " style="left:108.80px;top:223.85px;font-size:5.9px;transform-origin:left top;transform:scaleX(0.822);color:#222;">since August 2021</div>
<div class="t " style="right:349.40px;top:223.85px;font-size:5.9px;transform-origin:right top;transform:scaleX(0.86);color:#222;">–</div>
<div class="t " style="right:309.00px;top:223.85px;font-size:5.9px;transform-origin:right top;transform:scaleX(0.86);color:#222;">86,258</div>
<div class="t " style="right:268.60px;top:223.85px;font-size:5.9px;transform-origin:right top;transform:scaleX(0.86);color:#222;">–</div>
<div class="t " style="right:228.20px;top:223.85px;font-size:5.9px;transform-origin:right top;transform:scaleX(0.86);color:#222;">210,000</div>
<div class="t " style="right:187.80px;top:223.85px;font-size:5.9px;transform-origin:right top;transform:scaleX(0.86);color:#222;">143%</div>
<div class="t " style="right:147.40px;top:223.85px;font-size:5.9px;transform-origin:right top;transform:scaleX(0.86);color:#222;">210,000</div>
<div class="t " style="right:107.00px;top:223.85px;font-size:5.9px;transform-origin:right top;transform:scaleX(0.86);color:#222;">0%</div>
<div class="t " style="right:66.60px;top:223.85px;font-size:5.9px;transform-origin:right top;transform:scaleX(0.86);color:#3886c0;">210,000</div>
<div class="t " style="right:26.20px;top:223.85px;font-size:5.9px;transform-origin:right top;transform:scaleX(0.86);color:#222;">0%</div>
<div class="t " style="left:24.00px;top:233.85px;font-size:5.9px;transform-origin:left top;transform:scaleX(0.822);color:#222;">André Mandl<sup>1</sup></div>
<div class="t " style="left:108.80px;top:233.85px;font-size:5.9px;transform-origin:left top;transform:scaleX(0.822);color:#222;">since April 2022</div>
<div class="t " style="right:349.40px;top:233.85px;font-size:5.9px;transform-origin:right top;transform:scaleX(0.86);color:#222;">–</div>
<div class="t " style="right:309.00px;top:233.85px;font-size:5.9px;transform-origin:right top;transform:scaleX(0.86);color:#222;">–</div>
<div class="t " style="right:268.60px;top:233.85px;font-size:5.9px;transform-origin:right top;transform:scaleX(0.86);color:#222;">–</div>
<div class="t " style="right:228.20px;top:233.85px;font-size:5.9px;transform-origin:right top;transform:scaleX(0.86);color:#222;">156,333</div>
<div class="t " style="right:187.80px;top:233.85px;font-size:5.9px;transform-origin:right top;transform:scaleX(0.86);color:#222;">–</div>
<div class="t " style="right:147.40px;top:233.85px;font-size:5.9px;transform-origin:right top;transform:scaleX(0.86);color:#222;">210,000</div>
<div class="t " style="right:107.00px;top:233.85px;font-size:5.9px;transform-origin:right top;transform:scaleX(0.86);color:#222;">34%</div>
<div class="t " style="right:66.60px;top:233.85px;font-size:5.9px;transform-origin:right top;transform:scaleX(0.86);color:#3886c0;">208,000</div>
<div class="t " style="right:26.20px;top:233.85px;font-size:5.9px;transform-origin:right top;transform:scaleX(0.86);color:#222;">– 1%</div>
<div class="t " style="left:24.00px;top:243.85px;font-size:5.9px;transform-origin:left top;transform:scaleX(0.822);color:#222;">Dominique Mohabeer<sup>1,3</sup></div>
<div class="t " style="left:108.80px;top:243.85px;font-size:5.9px;transform-origin:left top;transform:scaleX(0.822);color:#222;">since June 2012</div>
<div class="t " style="right:349.40px;top:243.85px;font-size:5.9px;transform-origin:right top;transform:scaleX(0.86);color:#222;">210,000</div>
<div class="t " style="right:309.00px;top:243.85px;font-size:5.9px;transform-origin:right top;transform:scaleX(0.86);color:#222;">210,000</div>
<div class="t " style="right:268.60px;top:243.85px;font-size:5.9px;transform-origin:right top;transform:scaleX(0.86);color:#222;">0%</div>
<div class="t " style="right:228.20px;top:243.85px;font-size:5.9px;transform-origin:right top;transform:scaleX(0.86);color:#222;">260,000</div>
<div class="t " style="right:187.80px;top:243.85px;font-size:5.9px;transform-origin:right top;transform:scaleX(0.86);color:#222;">24%</div>
<div class="t " style="right:147.40px;top:243.85px;font-size:5.9px;transform-origin:right top;transform:scaleX(0.86);color:#222;">410,000</div>
<div class="t " style="right:107.00px;top:243.85px;font-size:5.9px;transform-origin:right top;transform:scaleX(0.86);color:#222;">58%</div>
<div class="t " style="right:66.60px;top:243.85px;font-size:5.9px;transform-origin:right top;transform:scaleX(0.86);color:#3886c0;">410,000</div>
<div class="t " style="right:26.20px;top:243.85px;font-size:5.9px;transform-origin:right top;transform:scaleX(0.86);color:#222;">0%</div>
<div class="t " style="left:24.00px;top:254.05px;font-size:5.9px;transform-origin:left top;transform:scaleX(0.822);color:#222;">Michael Nikolaides</div>
<div class="t " style="left:108.80px;top:254.05px;font-size:5.9px;transform-origin:left top;transform:scaleX(0.822);color:#222;">since November 2024</div>
<div class="t " style="right:349.40px;top:254.05px;font-size:5.9px;transform-origin:right top;transform:scaleX(0.86);color:#222;">–</div>
<div class="t " style="right:309.00px;top:254.05px;font-size:5.9px;transform-origin:right top;transform:scaleX(0.86);color:#222;">–</div>
<div class="t " style="right:268.60px;top:254.05px;font-size:5.9px;transform-origin:right top;transform:scaleX(0.86);color:#222;">–</div>
<div class="t " style="right:228.20px;top:254.05px;font-size:5.9px;transform-origin:right top;transform:scaleX(0.86);color:#222;">–</div>
<div class="t " style="right:187.80px;top:254.05px;font-size:5.9px;transform-origin:right top;transform:scaleX(0.86);color:#222;">–</div>
<div class="t " style="right:147.40px;top:254.05px;font-size:5.9px;transform-origin:right top;transform:scaleX(0.86);color:#222;">–</div>
<div class="t " style="right:107.00px;top:254.05px;font-size:5.9px;transform-origin:right top;transform:scaleX(0.86);color:#222;">–</div>
<div class="t " style="right:66.60px;top:254.05px;font-size:5.9px;transform-origin:right top;transform:scaleX(0.86);color:#3886c0;">35,333</div>
<div class="t " style="right:26.20px;top:254.05px;font-size:5.9px;transform-origin:right top;transform:scaleX(0.86);color:#222;">–</div>
<div class="t " style="left:24.00px;top:264.35px;font-size:5.9px;transform-origin:left top;transform:scaleX(0.822);color:#222;">Horst Ott<sup>1</sup></div>
<div class="t " style="left:108.80px;top:264.35px;font-size:5.9px;transform-origin:left top;transform:scaleX(0.822);color:#222;">since May 2024</div>
<div class="t " style="right:349.40px;top:264.35px;font-size:5.9px;transform-origin:right top;transform:scaleX(0.86);color:#222;">–</div>
<div class="t " style="right:309.00px;top:264.35px;font-size:5.9px;transform-origin:right top;transform:scaleX(0.86);color:#222;">–</div>
<div class="t " style="right:268.60px;top:264.35px;font-size:5.9px;transform-origin:right top;transform:scaleX(0.86);color:#222;">–</div>
<div class="t " style="right:228.20px;top:264.35px;font-size:5.9px;transform-origin:right top;transform:scaleX(0.86);color:#222;">–</div>
<div class="t " style="right:187.80px;top:264.35px;font-size:5.9px;transform-origin:right top;transform:scaleX(0.86);color:#222;">–</div>
<div class="t " style="right:147.40px;top:264.35px;font-size:5.9px;transform-origin:right top;transform:scaleX(0.86);color:#222;">–</div>
<div class="t " style="right:107.00px;top:264.35px;font-size:5.9px;transform-origin:right top;transform:scaleX(0.86);color:#222;">–</div>
<div class="t " style="right:66.60px;top:264.35px;font-size:5.9px;transform-origin:right top;transform:scaleX(0.86);color:#3886c0;">132,087</div>
<div class="t " style="right:26.20px;top:264.35px;font-size:5.9px;transform-origin:right top;transform:scaleX(0.86);color:#222;">–</div>
<div class="t " style="left:24.00px;top:274.75px;font-size:5.9px;transform-origin:left top;transform:scaleX(0.822);color:#222;">Anke Schäferkordt</div>
<div class="t " style="left:108.80px;top:274.75px;font-size:5.9px;transform-origin:left top;transform:scaleX(0.822);color:#222;">since May 2020</div>
<div class="t " style="right:349.40px;top:274.75px;font-size:5.9px;transform-origin:right top;transform:scaleX(0.86);color:#222;">134,344</div>
<div class="t " style="right:309.00px;top:274.75px;font-size:5.9px;transform-origin:right top;transform:scaleX(0.86);color:#222;">210,000</div>
<div class="t " style="right:268.60px;top:274.75px;font-size:5.9px;transform-origin:right top;transform:scaleX(0.86);color:#222;">56%</div>
<div class="t " style="right:228.20px;top:274.75px;font-size:5.9px;transform-origin:right top;transform:scaleX(0.86);color:#222;">210,000</div>
<div class="t " style="right:187.80px;top:274.75px;font-size:5.9px;transform-origin:right top;transform:scaleX(0.86);color:#222;">0%</div>
<div class="t " style="right:147.40px;top:274.75px;font-size:5.9px;transform-origin:right top;transform:scaleX(0.86);color:#222;">210,000</div>
<div class="t " style="right:107.00px;top:274.75px;font-size:5.9px;transform-origin:right top;transform:scaleX(0.86);color:#222;">0%</div>
<div class="t " style="right:66.60px;top:274.75px;font-size:5.9px;transform-origin:right top;transform:scaleX(0.86);color:#3886c0;">210,000</div>
<div class="t " style="right:26.20px;top:274.75px;font-size:5.9px;transform-origin:right top;transform:scaleX(0.86);color:#222;">0%</div>
<div class="t " style="left:24.00px;top:284.95px;font-size:5.9px;transform-origin:left top;transform:scaleX(0.822);color:#222;">Christoph Schmidt</div>
<div class="t " style="left:108.80px;top:284.95px;font-size:5.9px;transform-origin:left top;transform:scaleX(0.822);color:#222;">since May 2021</div>
<div class="t " style="right:349.40px;top:284.95px;font-size:5.9px;transform-origin:right top;transform:scaleX(0.86);color:#222;">–</div>
<div class="t " style="right:309.00px;top:284.95px;font-size:5.9px;transform-origin:right top;transform:scaleX(0.86);color:#222;">135,419</div>
<div class="t " style="right:268.60px;top:284.95px;font-size:5.9px;transform-origin:right top;transform:scaleX(0.86);color:#222;">–</div>
<div class="t " style="right:228.20px;top:284.95px;font-size:5.9px;transform-origin:right top;transform:scaleX(0.86);color:#222;">210,000</div>
<div class="t " style="right:187.80px;top:284.95px;font-size:5.9px;transform-origin:right top;transform:scaleX(0.86);color:#222;">55%</div>
<div class="t " style="right:147.40px;top:284.95px;font-size:5.9px;transform-origin:right top;transform:scaleX(0.86);color:#222;">210,000</div>
<div class="t " style="right:107.00px;top:284.95px;font-size:5.9px;transform-origin:right top;transform:scaleX(0.86);color:#222;">0%</div>
<div class="t " style="right:66.60px;top:284.95px;font-size:5.9px;transform-origin:right top;transform:scaleX(0.86);color:#3886c0;">210,000</div>
<div class="t " style="right:26.20px;top:284.95px;font-size:5.9px;transform-origin:right top;transform:scaleX(0.86);color:#222;">0%</div>
<div class="t " style="left:24.00px;top:295.05px;font-size:5.9px;transform-origin:left top;transform:scaleX(0.822);color:#222;">Vishal Sikka</div>
<div class="t " style="left:108.80px;top:295.05px;font-size:5.9px;transform-origin:left top;transform:scaleX(0.822);color:#222;">since May 2019</div>
<div class="t " style="right:349.40px;top:295.05px;font-size:5.9px;transform-origin:right top;transform:scaleX(0.86);color:#222;">208,000</div>
<div class="t " style="right:309.00px;top:295.05px;font-size:5.9px;transform-origin:right top;transform:scaleX(0.86);color:#222;">210,000</div>
<div class="t " style="right:268.60px;top:295.05px;font-size:5.9px;transform-origin:right top;transform:scaleX(0.86);color:#222;">1%</div>
<div class="t " style="right:228.20px;top:295.05px;font-size:5.9px;transform-origin:right top;transform:scaleX(0.86);color:#222;">210,000</div>
<div class="t " style="right:187.80px;top:295.05px;font-size:5.9px;transform-origin:right top;transform:scaleX(0.86);color:#222;">0%</div>
<div class="t " style="right:147.40px;top:295.05px;font-size:5.9px;transform-origin:right top;transform:scaleX(0.86);color:#222;">210,000</div>
<div class="t " style="right:107.00px;top:295.05px;font-size:5.9px;transform-origin:right top;transform:scaleX(0.86);color:#222;">0%</div>
<div class="t " style="right:66.60px;top:295.05px;font-size:5.9px;transform-origin:right top;transform:scaleX(0.86);color:#3886c0;">208,000</div>
<div class="t " style="right:26.20px;top:295.05px;font-size:5.9px;transform-origin:right top;transform:scaleX(0.86);color:#222;">– 1%</div>
<div class="t " style="left:24.00px;top:304.95px;font-size:5.9px;transform-origin:left top;transform:scaleX(0.822);color:#222;">Sibylle Wankel<sup>1</sup></div>
<div class="t " style="left:108.80px;top:304.95px;font-size:5.9px;transform-origin:left top;transform:scaleX(0.822);color:#222;">since January 2022</div>
<div class="t " style="right:349.40px;top:304.95px;font-size:5.9px;transform-origin:right top;transform:scaleX(0.86);color:#222;">–</div>
<div class="t " style="right:309.00px;top:304.95px;font-size:5.9px;transform-origin:right top;transform:scaleX(0.86);color:#222;">–</div>
<div class="t " style="right:268.60px;top:304.95px;font-size:5.9px;transform-origin:right top;transform:scaleX(0.86);color:#222;">–</div>
<div class="t " style="right:228.20px;top:304.95px;font-size:5.9px;transform-origin:right top;transform:scaleX(0.86);color:#222;">208,387</div>
<div class="t " style="right:187.80px;top:304.95px;font-size:5.9px;transform-origin:right top;transform:scaleX(0.86);color:#222;">–</div>
<div class="t " style="right:147.40px;top:304.95px;font-size:5.9px;transform-origin:right top;transform:scaleX(0.86);color:#222;">210,000</div>
<div class="t " style="right:107.00px;top:304.95px;font-size:5.9px;transform-origin:right top;transform:scaleX(0.86);color:#222;">1%</div>
<div class="t " style="right:66.60px;top:304.95px;font-size:5.9px;transform-origin:right top;transform:scaleX(0.86);color:#3886c0;">210,000</div>
<div class="t " style="right:26.20px;top:304.95px;font-size:5.9px;transform-origin:right top;transform:scaleX(0.86);color:#222;">0%</div>
<div class="t " style="left:24.00px;top:315.05px;font-size:5.9px;transform-origin:left top;transform:scaleX(0.822);color:#222;">Johanna Wenckebach<sup>1</sup></div>
<div class="t " style="left:108.80px;top:315.05px;font-size:5.9px;transform-origin:left top;transform:scaleX(0.822);color:#222;">since May 2024</div>
<div class="t " style="right:349.40px;top:315.05px;font-size:5.9px;transform-origin:right top;transform:scaleX(0.86);color:#222;">–</div>
<div class="t " style="right:309.00px;top:315.05px;font-size:5.9px;transform-origin:right top;transform:scaleX(0.86);color:#222;">–</div>
<div class="t " style="right:268.60px;top:315.05px;font-size:5.9px;transform-origin:right top;transform:scaleX(0.86);color:#222;">–</div>
<div class="t " style="right:228.20px;top:315.05px;font-size:5.9px;transform-origin:right top;transform:scaleX(0.86);color:#222;">–</div>
<div class="t " style="right:187.80px;top:315.05px;font-size:5.9px;transform-origin:right top;transform:scaleX(0.86);color:#222;">–</div>
<div class="t " style="right:147.40px;top:315.05px;font-size:5.9px;transform-origin:right top;transform:scaleX(0.86);color:#222;">–</div>
<div class="t " style="right:107.00px;top:315.05px;font-size:5.9px;transform-origin:right top;transform:scaleX(0.86);color:#222;">–</div>
<div class="t " style="right:66.60px;top:315.05px;font-size:5.9px;transform-origin:right top;transform:scaleX(0.86);color:#3886c0;">134,087</div>
<div class="t " style="right:26.20px;top:315.05px;font-size:5.9px;transform-origin:right top;transform:scaleX(0.86);color:#222;">–</div>
<div class="t " style="left:24.00px;top:329.08px;font-size:4.6px;transform-origin:left top;color:#333;font-weight:bold;-webkit-text-stroke:0px currentColor;letter-spacing:0.68px;">FORMER MEMBERS OF THE SUPERVISORY BOARD IN €</div>
<div class="t " style="left:24.00px;top:338.85px;font-size:5.9px;transform-origin:left top;transform:scaleX(0.822);color:#222;">Christiane Benner<sup>1</sup></div>
<div class="t " style="left:108.80px;top:338.85px;font-size:5.9px;transform-origin:left top;transform:scaleX(0.822);color:#222;">since May 2014 until May 2024</div>
<div class="t " style="right:349.40px;top:338.85px;font-size:5.9px;transform-origin:right top;transform:scaleX(0.86);color:#222;">210,000</div>
<div class="t " style="right:309.00px;top:338.85px;font-size:5.9px;transform-origin:right top;transform:scaleX(0.86);color:#222;">210,000</div>
<div class="t " style="right:268.60px;top:338.85px;font-size:5.9px;transform-origin:right top;transform:scaleX(0.86);color:#222;">0%</div>
<div class="t " style="right:228.20px;top:338.85px;font-size:5.9px;transform-origin:right top;transform:scaleX(0.86);color:#222;">210,000</div>
<div class="t " style="right:187.80px;top:338.85px;font-size:5.9px;transform-origin:right top;transform:scaleX(0.86);color:#222;">0%</div>
<div class="t " style="right:147.40px;top:338.85px;font-size:5.9px;transform-origin:right top;transform:scaleX(0.86);color:#222;">210,000</div>
<div class="t " style="right:107.00px;top:338.85px;font-size:5.9px;transform-origin:right top;transform:scaleX(0.86);color:#222;">0%</div>
<div class="t " style="right:66.60px;top:338.85px;font-size:5.9px;transform-origin:right top;transform:scaleX(0.86);color:#3886c0;">76,638</div>
<div class="t " style="right:26.20px;top:338.85px;font-size:5.9px;transform-origin:right top;transform:scaleX(0.86);color:#222;">– 64%</div>
<div class="t " style="left:24.00px;top:348.95px;font-size:5.9px;transform-origin:left top;transform:scaleX(0.822);color:#222;">Bernhard Ebner<sup>1</sup></div>
<div class="t " style="left:108.80px;top:348.95px;font-size:5.9px;transform-origin:left top;transform:scaleX(0.822);color:#222;">since October 2021 until May 2024</div>
<div class="t " style="right:349.40px;top:348.95px;font-size:5.9px;transform-origin:right top;transform:scaleX(0.86);color:#222;">–</div>
<div class="t " style="right:309.00px;top:348.95px;font-size:5.9px;transform-origin:right top;transform:scaleX(0.86);color:#222;">48,237</div>
<div class="t " style="right:268.60px;top:348.95px;font-size:5.9px;transform-origin:right top;transform:scaleX(0.86);color:#222;">–</div>
<div class="t " style="right:228.20px;top:348.95px;font-size:5.9px;transform-origin:right top;transform:scaleX(0.86);color:#222;">210,000</div>
<div class="t " style="right:187.80px;top:348.95px;font-size:5.9px;transform-origin:right top;transform:scaleX(0.86);color:#222;">335%</div>
<div class="t " style="right:147.40px;top:348.95px;font-size:5.9px;transform-origin:right top;transform:scaleX(0.86);color:#222;">210,000</div>
<div class="t " style="right:107.00px;top:348.95px;font-size:5.9px;transform-origin:right top;transform:scaleX(0.86);color:#222;">0%</div>
<div class="t " style="right:66.60px;top:348.95px;font-size:5.9px;transform-origin:right top;transform:scaleX(0.86);color:#3886c0;">76,638</div>
<div class="t " style="right:26.20px;top:348.95px;font-size:5.9px;transform-origin:right top;transform:scaleX(0.86);color:#222;">– 64%</div>
<div class="t " style="left:24.00px;top:359.15px;font-size:5.9px;transform-origin:left top;transform:scaleX(0.822);color:#222;">Johann Horn<sup>1</sup></div>
<div class="t " style="left:108.80px;top:359.15px;font-size:5.9px;transform-origin:left top;transform:scaleX(0.822);color:#222;">since May 2021 until May 2024</div>
<div class="t " style="right:349.40px;top:359.15px;font-size:5.9px;transform-origin:right top;transform:scaleX(0.86);color:#222;">–</div>
<div class="t " style="right:309.00px;top:359.15px;font-size:5.9px;transform-origin:right top;transform:scaleX(0.86);color:#222;">132,344</div>
<div class="t " style="right:268.60px;top:359.15px;font-size:5.9px;transform-origin:right top;transform:scaleX(0.86);color:#222;">–</div>
<div class="t " style="right:228.20px;top:359.15px;font-size:5.9px;transform-origin:right top;transform:scaleX(0.86);color:#222;">210,000</div>
<div class="t " style="right:187.80px;top:359.15px;font-size:5.9px;transform-origin:right top;transform:scaleX(0.86);color:#222;">59%</div>
<div class="t " style="right:147.40px;top:359.15px;font-size:5.9px;transform-origin:right top;transform:scaleX(0.86);color:#222;">210,000</div>
<div class="t " style="right:107.00px;top:359.15px;font-size:5.9px;transform-origin:right top;transform:scaleX(0.86);color:#222;">0%</div>
<div class="t " style="right:66.60px;top:359.15px;font-size:5.9px;transform-origin:right top;transform:scaleX(0.86);color:#3886c0;">76,638</div>
<div class="t " style="right:26.20px;top:359.15px;font-size:5.9px;transform-origin:right top;transform:scaleX(0.86);color:#222;">– 64%</div>
<div class="t " style="left:24.00px;top:369.25px;font-size:5.9px;transform-origin:left top;transform:scaleX(0.822);color:#222;">Gerhard Kurz</div>
<div class="t " style="left:108.80px;top:369.25px;font-size:5.9px;transform-origin:left top;transform:scaleX(0.822);color:#222;">since July 2022 until May 2024</div>
<div class="t " style="right:349.40px;top:369.25px;font-size:5.9px;transform-origin:right top;transform:scaleX(0.86);color:#222;">–</div>
<div class="t " style="right:309.00px;top:369.25px;font-size:5.9px;transform-origin:right top;transform:scaleX(0.86);color:#222;">–</div>
<div class="t " style="right:268.60px;top:369.25px;font-size:5.9px;transform-origin:right top;transform:scaleX(0.86);color:#222;">–</div>
<div class="t " style="right:228.20px;top:369.25px;font-size:5.9px;transform-origin:right top;transform:scaleX(0.86);color:#222;">100,624</div>
<div class="t " style="right:187.80px;top:369.25px;font-size:5.9px;transform-origin:right top;transform:scaleX(0.86);color:#222;">–</div>
<div class="t " style="right:147.40px;top:369.25px;font-size:5.9px;transform-origin:right top;transform:scaleX(0.86);color:#222;">210,000</div>
<div class="t " style="right:107.00px;top:369.25px;font-size:5.9px;transform-origin:right top;transform:scaleX(0.86);color:#222;">109%</div>
<div class="t " style="right:66.60px;top:369.25px;font-size:5.9px;transform-origin:right top;transform:scaleX(0.86);color:#3886c0;">172,667</div>
<div class="t " style="right:26.20px;top:369.25px;font-size:5.9px;transform-origin:right top;transform:scaleX(0.86);color:#222;">– 18%</div>
<div class="t" style="left:24.00px;top:378.51px;font-size:4.2px;transform-origin:left top;transform:scaleX(0.96);color:#666;-webkit-text-stroke:0.1px currentColor"><sup class="fs">1</sup> These employee representatives have declared that they will transfer their remuneration to the Hans Böckler Foundation in accordance with the guidelines of the Confederation of German Trade Unions.</div>
<div class="t" style="left:24.00px;top:383.71px;font-size:4.2px;transform-origin:left top;transform:scaleX(0.96);color:#666;-webkit-text-stroke:0.1px currentColor"><sup class="fs">2</sup> Chairman of the Audit Committee since May 2020.</div>
<div class="t" style="left:24.00px;top:388.71px;font-size:4.2px;transform-origin:left top;transform:scaleX(0.96);color:#666;-webkit-text-stroke:0.1px currentColor"><sup class="fs">3</sup> Member of the Audit Committee since October 2022.</div>
</body></html>
